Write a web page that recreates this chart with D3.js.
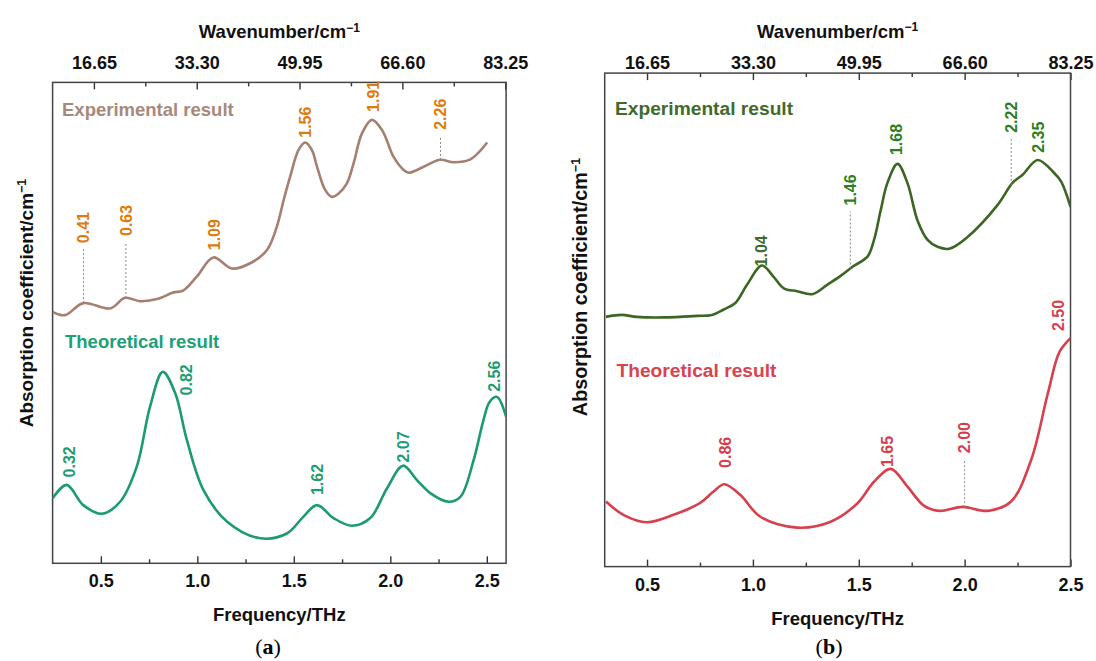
<!DOCTYPE html>
<html><head><meta charset="utf-8">
<script src="https://cdn.jsdelivr.net/npm/d3@7"></script>
<style>
body{margin:0;background:#fff}
svg{display:block}
text{font-family:"Liberation Sans",Arial,Helvetica,sans-serif;font-weight:bold}
</style>
</head><body>
<svg id="c" width="1096" height="661"></svg>
<script>
// ---------------- DATA ----------------
// Frequency axis ticks (THz) and wavenumber ticks (cm^-1)
const thzTicks = [0.5, 1.0, 1.5, 2.0, 2.5];
const thzMinor = [0.75, 1.25, 1.75, 2.25];
const wnTicks = [16.65, 33.30, 49.95, 66.60, 83.25];
const wnMinor = [24.975, 41.625, 58.275, 74.925];

// Panel (a) experimental spectrum (arbitrary units)
const expA_freq = [0.250,0.314,0.409,0.548,0.626,0.703,0.797,0.874,0.926,0.997,1.083,1.179,1.274,1.360,1.412,1.447,1.481,1.524,1.559,1.594,1.620,1.663,1.698,1.732,1.775,1.810,1.853,1.905,1.957,2.017,2.069,2.095,2.138,2.190,2.259,2.328,2.415,2.502];
const expA_abs  = [52.3,51.6,54.1,53.0,55.2,54.5,55.0,56.3,56.7,59.6,63.6,61.3,62.4,65.1,70.0,75.5,80.4,85.9,87.5,85.9,82.5,77.6,76.2,76.9,79.0,83.2,89.4,92.2,90.1,84.5,81.8,81.2,81.8,82.8,83.9,83.4,84.0,87.5];
const expA_peaks = ["0.41","0.63","1.09","1.56","1.91","2.26"];

// Panel (a) theoretical spectrum
const theoA_freq = [0.250,0.323,0.409,0.505,0.600,0.686,0.755,0.821,0.885,0.946,1.032,1.153,1.326,1.464,1.550,1.620,1.706,1.801,1.896,1.983,2.066,2.138,2.207,2.302,2.363,2.432,2.484,2.515,2.553,2.600];
const theoA_abs  = [13.5,16.3,12.1,10.3,12.8,20.1,32.6,39.8,35.4,25.6,15.2,8.7,5.2,6.2,9.7,12.1,9.4,7.8,9.4,15.6,20.3,17.3,14.6,12.8,13.8,21.5,30.0,33.6,34.6,30.5];
const theoA_peaks = ["0.32","0.82","1.62","2.07","2.56"];

// Panel (b) experimental spectrum
const expB_freq = [0.306,0.380,0.452,0.577,0.736,0.807,0.862,0.917,0.972,1.043,1.098,1.146,1.209,1.280,1.351,1.414,1.472,1.541,1.572,1.604,1.635,1.683,1.730,1.777,1.825,1.872,1.927,2.014,2.156,2.227,2.274,2.345,2.424,2.456,2.500];
const expB_abs  = [50.6,51.0,50.6,50.5,50.8,51.0,52.1,53.4,57.1,61.0,58.7,56.4,55.8,55.2,57.1,58.9,60.8,62.8,66.2,72.3,77.7,81.6,77.7,70.2,66.2,64.8,64.4,66.8,73.3,77.8,79.4,82.4,79.7,78.0,72.9];
const expB_peaks = ["1.04","1.46","1.68","2.22","2.35"];

// Panel (b) theoretical spectrum
const theoB_freq = [0.306,0.388,0.499,0.625,0.751,0.814,0.865,0.941,1.035,1.209,1.367,1.493,1.572,1.651,1.730,1.809,1.880,1.990,2.109,2.219,2.314,2.393,2.448,2.500];
const theoB_abs  = [13.2,10.5,9.0,10.5,12.9,15.2,16.7,14.5,10.1,7.9,9.1,12.8,17.2,19.8,16.2,12.3,11.3,12.1,11.3,13.2,21.6,35.1,43.5,46.3];
const theoB_peaks = ["0.86","1.65","2.00","2.50"];

// ---------------- DRAW ----------------
const svg = d3.select("#c");
svg.append("rect").attr("width",1096).attr("height",661).attr("fill","#fff");

function interp(xs, ys, f){
  const i = d3.bisectLeft(xs, f);
  if (i <= 0) return ys[0];
  if (i >= xs.length) return ys[ys.length-1];
  const t = (f - xs[i-1]) / (xs[i] - xs[i-1]);
  return ys[i-1] + t * (ys[i] - ys[i-1]);
}

const line = d3.line().curve(d3.curveCatmullRom.alpha(0.5));

function panel(p){
  const g = svg.append("g");
  const x = d3.scaleLinear().domain(p.thzDomain).range([p.left, p.right]);
  const xt = d3.scaleLinear().domain(p.wnDomain).range([p.left, p.right]);
  const y = d3.scaleLinear().domain([0, 100]).range([p.bottom, p.top]);

  const styleAxis = (sel, fs) => {
    sel.select(".domain").remove();
    sel.selectAll(".tick line").attr("stroke", "#333").attr("stroke-width", 1.4);
    sel.selectAll(".tick text").attr("fill", "#111").style("font-size", fs + "px")
      .style("font-family", '"Liberation Sans",Arial,sans-serif').style("font-weight", "bold");
  };

  // bottom axis
  const gb = g.append("g").attr("transform", `translate(0,${p.bottom})`)
    .call(d3.axisBottom(x).tickValues(thzTicks).tickFormat(d3.format(".1f"))
      .tickSizeInner(-7).tickSizeOuter(0).tickPadding(p.bPad));
  styleAxis(gb, 18);
  const gbm = g.append("g").attr("transform", `translate(0,${p.bottom})`)
    .call(d3.axisBottom(x).tickValues(thzMinor).tickFormat("").tickSizeInner(-4).tickSizeOuter(0));
  styleAxis(gbm, 18);

  // top axis
  const gt = g.append("g").attr("transform", `translate(0,${p.top})`)
    .call(d3.axisTop(xt).tickValues(wnTicks).tickFormat(d3.format(".2f"))
      .tickSizeInner(-7).tickSizeOuter(0).tickPadding(p.tPad));
  styleAxis(gt, 18);
  const gtm = g.append("g").attr("transform", `translate(0,${p.top})`)
    .call(d3.axisTop(xt).tickValues(wnMinor).tickFormat("").tickSizeInner(-4).tickSizeOuter(0));
  styleAxis(gtm, 18);

  // frame
  g.append("rect").attr("x", p.left).attr("y", p.top)
    .attr("width", p.right - p.left).attr("height", p.bottom - p.top)
    .attr("fill", "none").attr("stroke", "#444").attr("stroke-width", 1.5);

  // axis titles
  const tt = g.append("text").attr("x", (p.left + p.right)/2).attr("y", p.topTitleY)
    .attr("text-anchor", "middle").style("font-size", "18.5px").attr("fill", "#111");
  tt.append("tspan").text("Wavenumber/cm");
  tt.append("tspan").text("\u22121").attr("dy", "-0.55em").style("font-size", "12px");

  g.append("text").attr("x", (p.left + p.right)/2).attr("y", p.botTitleY)
    .attr("text-anchor", "middle").style("font-size", "18.5px").attr("fill", "#111")
    .text("Frequency/THz");

  const yt = g.append("text").attr("transform", `translate(${p.yTitleX},${p.yTitleY}) rotate(-90)`)
    .attr("text-anchor", "middle").style("font-size", p.yTitleFs + "px").attr("fill", "#111");
  yt.append("tspan").text("Absorption coefficient/cm");
  yt.append("tspan").text("\u22121").attr("dy", "-0.55em").style("font-size", "12.5px");

  // caption
  const cap = g.append("text").attr("x", p.capX).attr("y", 654).attr("text-anchor", "middle")
    .style("font-family", '"Liberation Serif","Times New Roman",serif').style("font-weight", "normal")
    .style("font-size", "22px").attr("fill", "#000");
  cap.append("tspan").text("(");
  cap.append("tspan").text(p.capLetter).style("font-weight", "bold");
  cap.append("tspan").text(")");

  // clip
  const cid = "clip" + p.capLetter;
  svg.append("clipPath").attr("id", cid).append("rect")
    .attr("x", p.left).attr("y", p.top).attr("width", p.right - p.left).attr("height", p.bottom - p.top);

  p.series.forEach(s => {
    const pts = s.f.map((f, i) => [x(f), y(s.a[i])]);
    g.append("path").attr("d", line(pts)).attr("fill", "none")
      .attr("stroke", s.color).attr("stroke-width", 2.6).attr("stroke-linejoin", "round")
      .attr("clip-path", `url(#${cid})`);

    g.append("text").attr("x", s.nameX).attr("y", s.nameY)
      .style("font-size", s.nameFs + "px").attr("fill", s.nameColor).text(s.name);

    s.peaks.forEach((lab, i) => {
      const L = s.layout[i];
      const f = +lab;
      const cy = y(interp(s.f, s.a, f));
      const by = cy - L.gap;
      const lx = x(f) + (L.dx || 0);
      if (L.dash) {
        g.append("line").attr("x1", x(f)).attr("x2", x(f)).attr("y1", cy).attr("y2", by + 6)
          .attr("stroke", "#888").attr("stroke-width", 1).attr("stroke-dasharray", "2,2");
      }
      g.append("text").attr("transform", `translate(${lx},${by}) rotate(-90)`)
        .attr("dy", "0.35em").style("font-size", "16px")
        .attr("fill", L.color || s.labelColor).text(lab);
    });
  });
}

panel({
  left: 52.6, right: 506.1, top: 82.4, bottom: 563.3,
  thzDomain: [0.25, 2.6], wnDomain: [9.96, 83.4],
  bPad: 11, tPad: 13,
  topTitleY: 38.2, botTitleY: 620.6,
  yTitleX: 33, yTitleY: 303, yTitleFs: 19,
  capX: 268, capLetter: "a",
  series: [
    { f: expA_freq, a: expA_abs, color: "#A57F70", name: "Experimental result",
      nameX: 62, nameY: 115.5, nameFs: 18.5, nameColor: "#A8887B", labelColor: "#E07A0C",
      peaks: expA_peaks,
      layout: [{gap:60,dash:1},{gap:62,dash:1},{gap:8},{gap:5},{gap:9},{gap:30,dash:1}] },
    { f: theoA_freq, a: theoA_abs, color: "#1C9A72", name: "Theoretical result",
      nameX: 65, nameY: 347.5, nameFs: 18.5, nameColor: "#20A077", labelColor: "#1E9C73",
      peaks: theoA_peaks,
      layout: [{gap:8,dx:3},{gap:-23,dx:24},{gap:10},{gap:4},{gap:8,dx:-4}] }
  ]
});

panel({
  left: 604.7, right: 1070.5, top: 73.1, bottom: 566.6,
  thzDomain: [0.3, 2.5], wnDomain: [9.99, 83.25],
  bPad: 12, tPad: 4,
  topTitleY: 38, botTitleY: 625.4,
  yTitleX: 587, yTitleY: 287, yTitleFs: 19.8,
  capX: 829, capLetter: "b",
  series: [
    { f: expB_freq, a: expB_abs, color: "#3C6624", name: "Experimental result",
      nameX: 615, nameY: 115, nameFs: 19.2, nameColor: "#3F6B2A", labelColor: "#2B7F1F",
      peaks: expB_peaks,
      layout: [{gap:0,color:"#3F6B2A"},{gap:63,dash:1},{gap:10},{gap:52,dash:1},{gap:8}] },
    { f: theoB_freq, a: theoB_abs, color: "#D8404E", name: "Theoretical result",
      nameX: 616.5, nameY: 376.5, nameFs: 19.2, nameColor: "#D8434F", labelColor: "#D63E4C",
      peaks: theoB_peaks,
      layout: [{gap:17,dx:2},{gap:2,dx:-3},{gap:54,dash:1},{gap:7,dx:-12.6}] }
  ]
});
</script>
</body></html>
